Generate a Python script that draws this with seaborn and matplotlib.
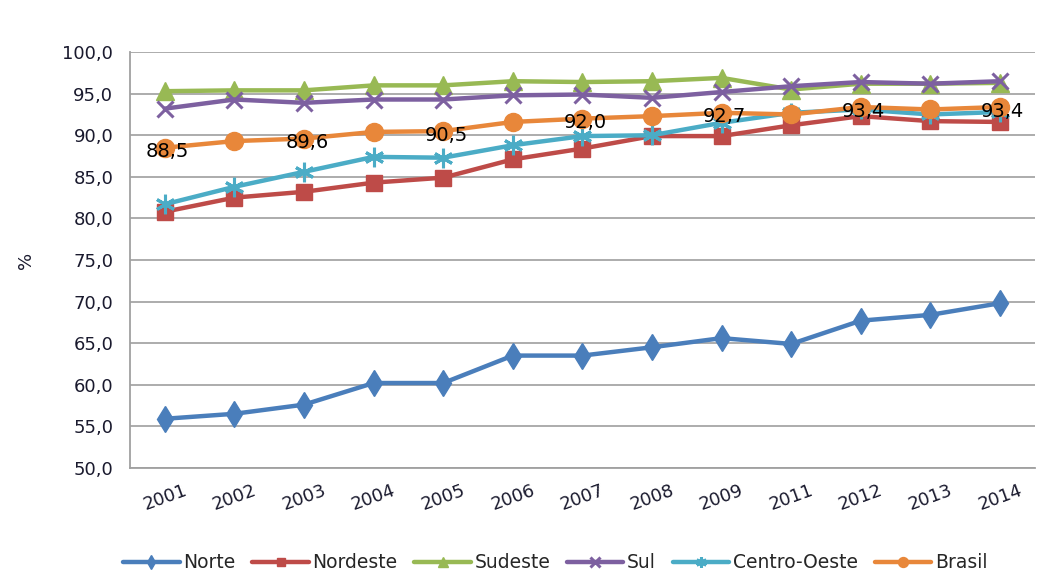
import matplotlib
matplotlib.use("Agg")
import matplotlib.pyplot as plt
import seaborn as sns
import pandas as pd

years = ["2001", "2002", "2003", "2004", "2005", "2006", "2007",
         "2008", "2009", "2011", "2012", "2013", "2014"]
norte = [55.9, 56.5, 57.6, 60.2, 60.2, 63.5, 63.5, 64.5, 65.6, 64.9, 67.7, 68.4, 69.8]
nordeste = [80.8, 82.5, 83.2, 84.3, 84.9, 87.1, 88.4, 89.9, 89.9, 91.2, 92.3, 91.7, 91.6]
sudeste = [95.3, 95.4, 95.4, 96.0, 96.0, 96.5, 96.4, 96.5, 96.9, 95.5, 96.2, 96.2, 96.3]
sul = [93.2, 94.3, 93.9, 94.3, 94.3, 94.8, 94.9, 94.5, 95.2, 95.9, 96.4, 96.2, 96.5]
centro_oeste = [81.7, 83.8, 85.6, 87.4, 87.3, 88.8, 89.9, 90.0, 91.5, 92.7, 93.1, 92.5, 92.8]
brasil = [88.5, 89.3, 89.6, 90.4, 90.5, 91.6, 92.0, 92.3, 92.7, 92.5, 93.4, 93.1, 93.4]
brasil_labels = {"2001": "88,5", "2003": "89,6", "2005": "90,5", "2007": "92,0",
                 "2009": "92,7", "2012": "93,4", "2014": "93,4"}

series = [
    ("Norte", norte, "#4A7EBB", "d", 13, 1),
    ("Nordeste", nordeste, "#BE4B48", "s", 11, 1),
    ("Sudeste", sudeste, "#98B954", "^", 13, 1),
    ("Sul", sul, "#7D60A0", "x", 12, 2.2),
    ("Centro-Oeste", centro_oeste, "#4BACC6", (6, 2, 0), 14, 2.2),
    ("Brasil", brasil, "#E8873A", "o", 13, 1),
]

sns.set_theme(style="white")
plt.rcParams["font.family"] = ["DejaVu Sans"]

fig = plt.figure(figsize=(10.4, 5.79), dpi=100)
ax = fig.add_axes([0.125, 0.192, 0.870, 0.718])

for name, vals, color, marker, ms, mew in series:
    df = pd.DataFrame({"ano": years, "valor": vals})
    sns.lineplot(data=df, x="ano", y="valor", ax=ax, color=color, linewidth=3.2,
                 marker=marker, markersize=ms, markeredgecolor=color,
                 markeredgewidth=mew, label=name, sort=False, zorder=3)

for i, y in enumerate(years):
    if y in brasil_labels:
        ax.annotate(brasil_labels[y], (i, brasil[i]), xytext=(2, -3),
                    textcoords="offset points", ha="center", va="center",
                    fontsize=14, color="black", zorder=5)

ax.set_ylim(50, 100)
ax.set_yticks(range(50, 101, 5))
ax.set_yticklabels([f"{v},0" for v in range(50, 101, 5)], fontsize=13, color="#1a1a2e")
ax.set_xlim(-0.5, len(years) - 0.5)
ax.set_xticks(range(len(years)))
ax.set_xticklabels(years, rotation=20, fontsize=13, color="#1a1a2e")
ax.tick_params(axis="x", length=0, pad=10)
ax.set_xticks([i - 0.5 for i in range(len(years) + 1)], minor=True)
ax.tick_params(axis="x", which="minor", length=6, color="#A0A0A0", width=1.2)
ax.tick_params(axis="y", length=6, color="#A0A0A0", width=1.2, pad=6)
ax.yaxis.grid(True, color="#A6A6A6", linewidth=1.3)
ax.xaxis.grid(False)
ax.set_axisbelow(True)
for side in ["top", "right"]:
    ax.spines[side].set_visible(False)
for side in ["left", "bottom"]:
    ax.spines[side].set_color("#A0A0A0")
    ax.spines[side].set_linewidth(1.3)

ax.set_xlabel("")
ax.set_ylabel("%", fontsize=13, color="#1a1a2e", labelpad=20)

handles, labels = ax.get_legend_handles_labels()
leg = ax.legend(handles, labels, loc="upper center", bbox_to_anchor=(0.47, -0.165),
                ncol=6, frameon=False, fontsize=13.5, handlelength=3.0,
                handletextpad=0.2, columnspacing=0.9, markerscale=0.55)

fig.savefig("out.png", dpi=100)
